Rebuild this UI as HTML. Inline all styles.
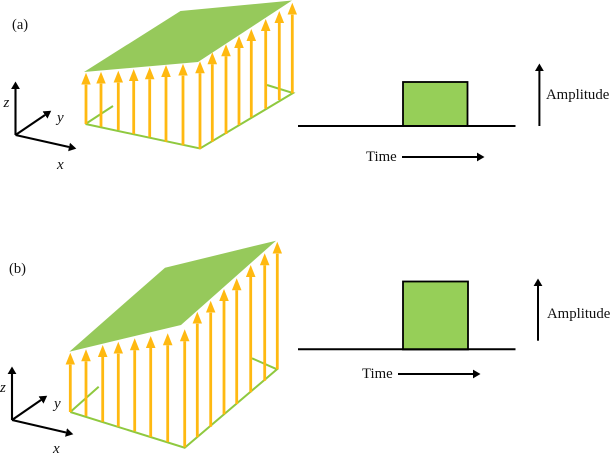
<!DOCTYPE html>
<html><head><meta charset="utf-8"><style>
html,body{margin:0;padding:0;background:#fff}
svg{display:block}
text{font-family:"Liberation Serif",serif;fill:#111}
</style></head><body>
<svg width="610" height="456" viewBox="0 0 610 456" xmlns="http://www.w3.org/2000/svg">
<defs>
<marker id="o" markerUnits="userSpaceOnUse" markerWidth="14" markerHeight="12" refX="0" refY="6" orient="auto" viewBox="0 0 14 12"><path d="M0,1.2 L12,6 L0,10.8 Z" fill="#ffb911"/></marker>
<marker id="k" markerUnits="userSpaceOnUse" markerWidth="10" markerHeight="10" refX="0" refY="5" orient="auto" viewBox="0 0 10 10"><path d="M0,0.6 L7.5,5 L0,9.4 Z" fill="#000"/></marker>
</defs>

<!-- (a) -->
<text x="12" y="29" font-size="14.5">(a)</text>
<polygon points="84,72 180.5,11 292,0.5 198,62" fill="#96c95b"/>
<path d="M85.5,124 L200,148.5 L293,93 L267,85 M85.5,124 L113,106" fill="none" stroke="#8fc93f" stroke-width="2"/>
<g stroke="#ffb911" stroke-width="2.8" marker-end="url(#o)">
<line x1="86" y1="124" x2="86" y2="84.7"/>
<line x1="101" y1="126.7" x2="101" y2="83.7"/>
<line x1="118.3" y1="130" x2="118.3" y2="82.7"/>
<line x1="133.7" y1="134" x2="133.7" y2="81"/>
<line x1="149.7" y1="137.3" x2="149.7" y2="79.3"/>
<line x1="166" y1="141.7" x2="166" y2="77"/>
<line x1="183" y1="145.3" x2="183" y2="75.7"/>
<line x1="200" y1="149" x2="200" y2="73.3"/>
<line x1="212.3" y1="141.7" x2="212.3" y2="64.3"/>
<line x1="226" y1="134" x2="226" y2="56.3"/>
<line x1="239" y1="125" x2="239" y2="48"/>
<line x1="251.3" y1="117.3" x2="251.3" y2="41"/>
<line x1="265.7" y1="108.7" x2="265.7" y2="31"/>
<line x1="279.3" y1="100" x2="279.3" y2="23"/>
<line x1="292.3" y1="93.3" x2="292.3" y2="14.7"/>
</g>
<g stroke="#000" stroke-width="2.1" marker-end="url(#k)">
<line x1="15.5" y1="135" x2="15.5" y2="89"/>
<line x1="15.5" y1="135" x2="45" y2="115"/>
<line x1="15.5" y1="135" x2="69" y2="147"/>
</g>
<text x="3.5" y="107" font-size="15" font-style="italic">z</text>
<text x="57" y="122" font-size="15" font-style="italic">y</text>
<text x="57" y="169" font-size="15" font-style="italic">x</text>

<rect x="403" y="82" width="64.5" height="44" fill="#96cf58" stroke="#000" stroke-width="1.8"/>
<line x1="298" y1="126" x2="515.5" y2="126" stroke="#000" stroke-width="2"/>
<line x1="539.4" y1="126" x2="539.4" y2="71" stroke="#000" stroke-width="2" marker-end="url(#k)"/>
<text x="546" y="99" font-size="14.8">Amplitude</text>
<text x="366" y="161" font-size="14.8">Time</text>
<line x1="402" y1="157" x2="477" y2="157" stroke="#000" stroke-width="2" marker-end="url(#k)"/>

<!-- (b) -->
<text x="9" y="273" font-size="14.5">(b)</text>
<polygon points="69.3,351.7 165,267.7 276,240.7 181,325" fill="#96c95b"/>
<path d="M70.3,412 L184.7,447.7 L277,369.3 L252,358.3 M70.3,412 L98.7,386.7" fill="none" stroke="#8fc93f" stroke-width="2"/>
<g stroke="#ffb911" stroke-width="2.8" marker-end="url(#o)">
<line x1="70.3" y1="412" x2="70.3" y2="364.7"/>
<line x1="86" y1="416" x2="86" y2="361.3"/>
<line x1="102.7" y1="421.7" x2="102.7" y2="357"/>
<line x1="118.3" y1="426.7" x2="118.3" y2="353.7"/>
<line x1="134.7" y1="431.3" x2="134.7" y2="350.3"/>
<line x1="150.7" y1="437" x2="150.7" y2="348"/>
<line x1="167.7" y1="442" x2="167.7" y2="345.3"/>
<line x1="184.7" y1="447.3" x2="184.7" y2="341.3"/>
<line x1="197.3" y1="437.3" x2="197.3" y2="323.7"/>
<line x1="210.7" y1="426.7" x2="210.7" y2="312.7"/>
<line x1="224" y1="414.3" x2="224" y2="301"/>
<line x1="236.7" y1="404" x2="236.7" y2="290.3"/>
<line x1="250.7" y1="392.3" x2="250.7" y2="277"/>
<line x1="264.7" y1="380.7" x2="264.7" y2="265.3"/>
<line x1="277.3" y1="369.3" x2="277.3" y2="253.7"/>
</g>
<g stroke="#000" stroke-width="2.1" marker-end="url(#k)">
<line x1="12" y1="420" x2="12" y2="374"/>
<line x1="12" y1="420" x2="41" y2="400"/>
<line x1="12" y1="420" x2="66" y2="432.5"/>
</g>
<text x="0" y="392" font-size="15" font-style="italic">z</text>
<text x="54" y="408" font-size="15" font-style="italic">y</text>
<text x="53" y="453" font-size="15" font-style="italic">x</text>

<rect x="403" y="281.5" width="65" height="68" fill="#96cf58" stroke="#000" stroke-width="1.8"/>
<line x1="298" y1="349.3" x2="515.5" y2="349.3" stroke="#000" stroke-width="2"/>
<line x1="538" y1="340.7" x2="538" y2="286" stroke="#000" stroke-width="2" marker-end="url(#k)"/>
<text x="547" y="318" font-size="14.8">Amplitude</text>
<text x="362" y="378" font-size="14.8">Time</text>
<line x1="398" y1="374" x2="473" y2="374" stroke="#000" stroke-width="2" marker-end="url(#k)"/>
</svg>
</body></html>
